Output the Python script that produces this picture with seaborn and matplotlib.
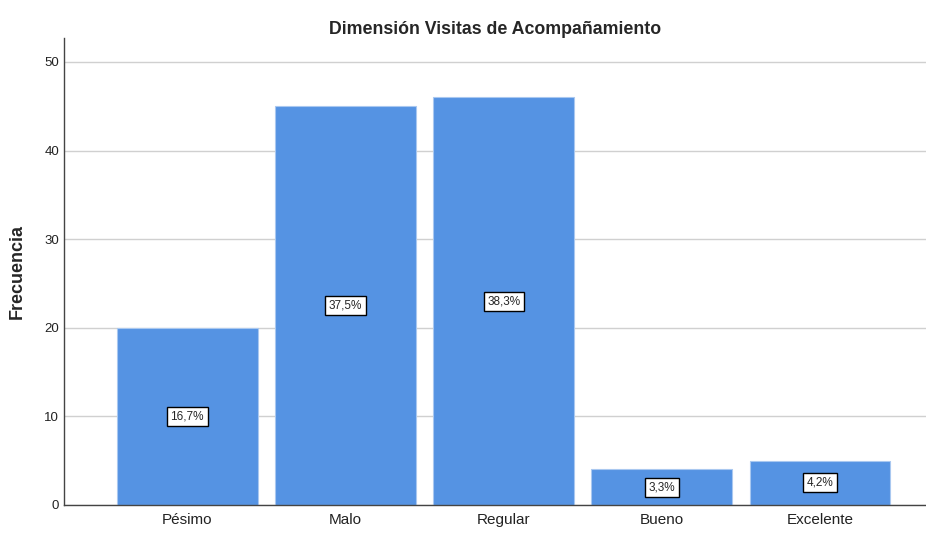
import matplotlib
matplotlib.use("Agg")
import matplotlib.pyplot as plt
import seaborn as sns
import pandas as pd

categorias = ["Pésimo", "Malo", "Regular", "Bueno", "Excelente"]
frecuencias = [20, 45, 46, 4, 5]
porcentajes = ["16,7%", "37,5%", "38,3%", "3,3%", "4,2%"]

df = pd.DataFrame({"Categoria": categorias, "Frecuencia": frecuencias})

sns.set_style("white")
plt.rcParams["font.family"] = ["Liberation Sans", "DejaVu Sans"]

fig = plt.figure(figsize=(9.26, 5.36), dpi=100)
ax = fig.add_axes([0.069, 0.058, 0.931, 0.871])

ax.yaxis.grid(True, color="#d0d0d0", linewidth=1)
ax.set_axisbelow(True)

sns.barplot(data=df, x="Categoria", y="Frecuencia", color="#5593e3",
            saturation=1, width=0.89, edgecolor="#a9c8f0", linewidth=0.8, ax=ax)

for i, (f, p) in enumerate(zip(frecuencias, porcentajes)):
    ax.text(i, f / 2, p, ha="center", va="center", fontsize=8.5,
            bbox=dict(boxstyle="square,pad=0.3", facecolor="white",
                      edgecolor="black", linewidth=1))

ax.set_ylim(0, 52.7)
ax.set_xlim(-0.78, 4.67)
ax.set_yticks([0, 10, 20, 30, 40, 50])
ax.tick_params(axis="both", length=0, labelsize=9.5, colors="#222222")
ax.tick_params(axis="x", pad=6, labelsize=11)
ax.set_xlabel("")
ax.set_ylabel("Frecuencia", fontsize=13, fontweight="bold", labelpad=13)
ax.set_title("Dimensión Visitas de Acompañamiento", fontsize=12.8,
             fontweight="bold", pad=3)

for s in ["top", "right"]:
    ax.spines[s].set_visible(False)
for s in ["left", "bottom"]:
    ax.spines[s].set_color("#444444")
    ax.spines[s].set_linewidth(1)

fig.savefig("out.png", dpi=100)
